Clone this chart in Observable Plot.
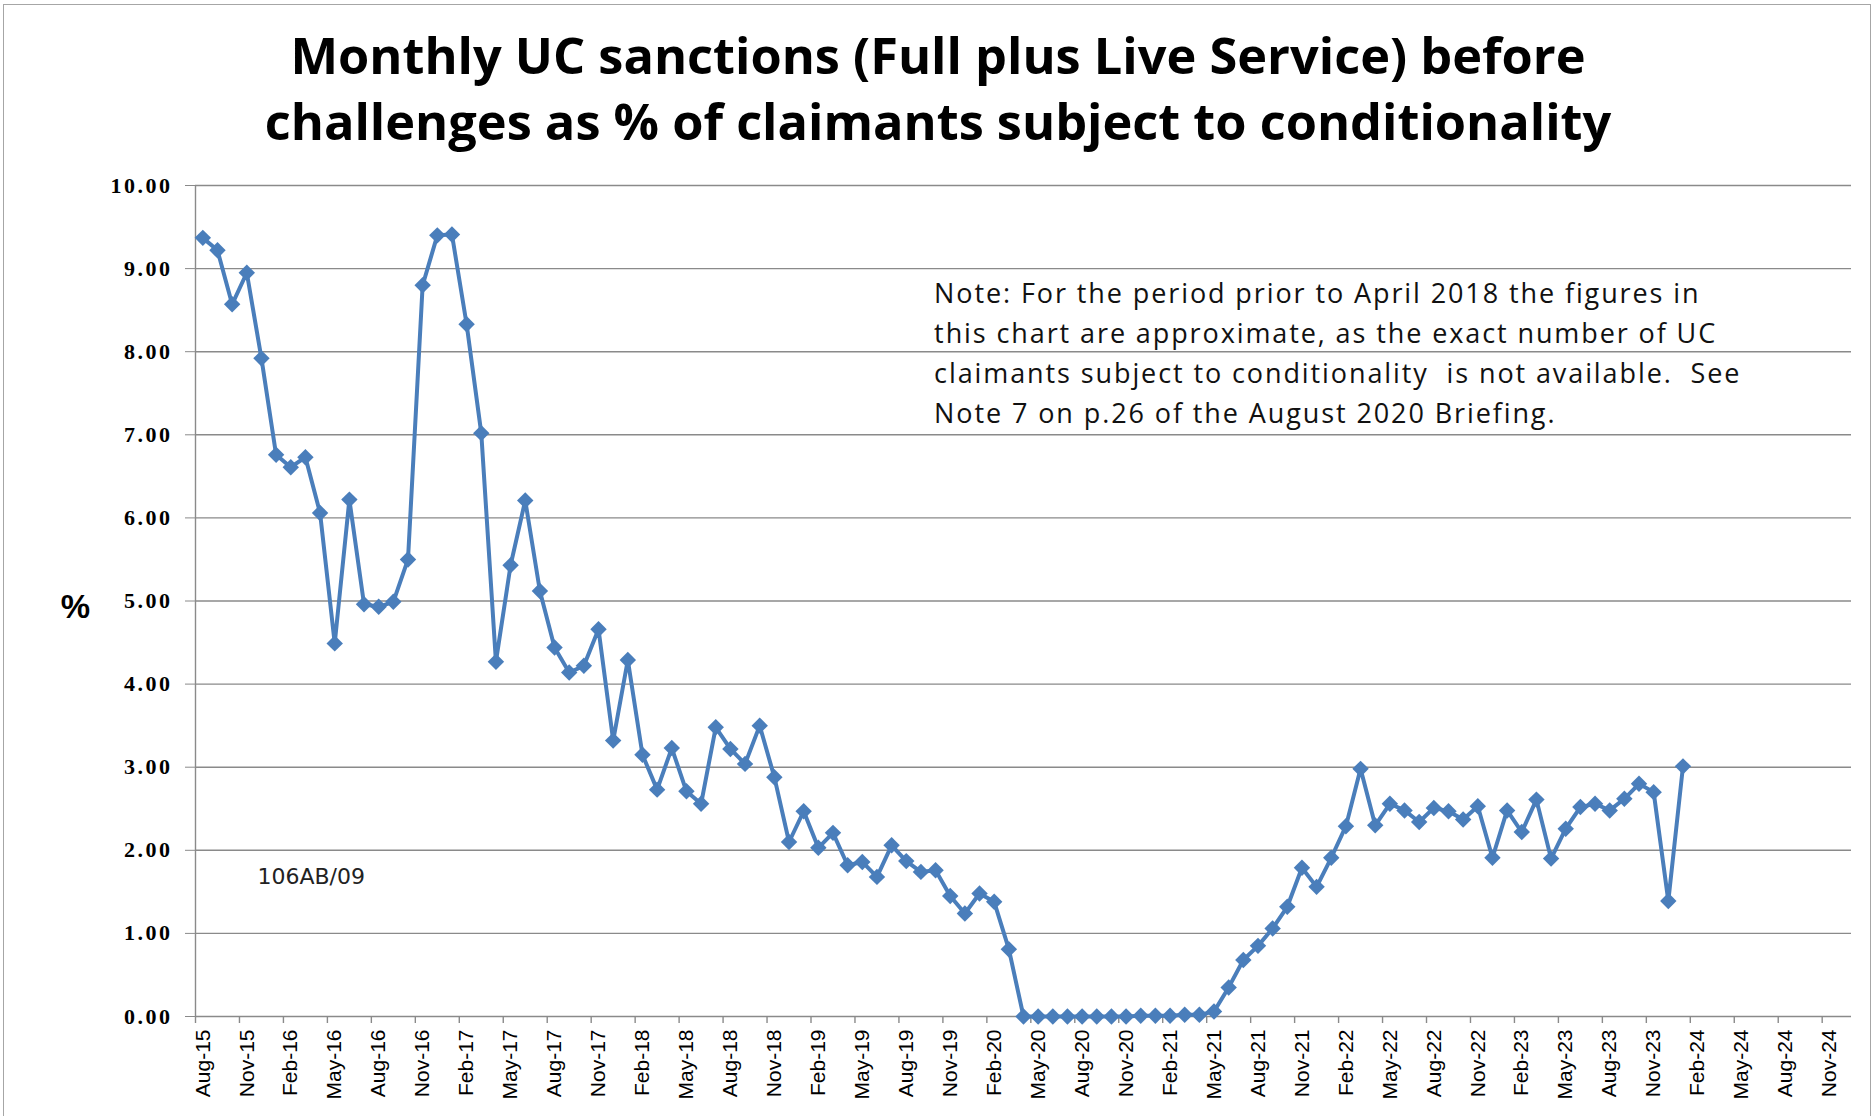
<!DOCTYPE html>
<html>
<head>
<meta charset="utf-8">
<script src="https://cdn.jsdelivr.net/npm/d3@7"></script>
<script src="https://cdn.jsdelivr.net/npm/@observablehq/plot@0.6"></script>
<style>
  html, body { margin: 0; padding: 0; background: #fff; }
  #wrap { position: relative; width: 1876px; height: 1116px; overflow: hidden; background: #fff; }
  #frame { position: absolute; left: 3px; top: 4px; width: 1868px; height: 1200px; border: 1.5px solid #a6a6a6; box-sizing: border-box; pointer-events: none; }
  #title { position: absolute; left: 0; top: 22px; width: 1876px; text-align: center;
           font-family: "Open Sans", Lato, sans-serif; font-weight: 700; font-size: 50.5px; line-height: 66px; color: #000; }
  #chart { position: absolute; left: 0; top: 150px; }
  #chart svg { overflow: visible; }
  #chart g[aria-label="y-axis tick label"] text { letter-spacing: 2.5px; }
</style>
</head>
<body>
<div id="wrap">
  <div id="title">Monthly UC sanctions (Full plus Live Service) before<br>challenges as % of claimants subject to conditionality</div>
  <div id="chart"></div>
  <div id="frame"></div>
</div>
<script>
// ---- data ----
const months = [
  "Aug-15","Sep-15","Oct-15","Nov-15","Dec-15",
  "Jan-16","Feb-16","Mar-16","Apr-16","May-16","Jun-16","Jul-16","Aug-16","Sep-16","Oct-16","Nov-16","Dec-16",
  "Jan-17","Feb-17","Mar-17","Apr-17","May-17","Jun-17","Jul-17","Aug-17","Sep-17","Oct-17","Nov-17","Dec-17",
  "Jan-18","Feb-18","Mar-18","Apr-18","May-18","Jun-18","Jul-18","Aug-18","Sep-18","Oct-18","Nov-18","Dec-18",
  "Jan-19","Feb-19","Mar-19","Apr-19","May-19","Jun-19","Jul-19","Aug-19","Sep-19","Oct-19","Nov-19","Dec-19",
  "Jan-20","Feb-20","Mar-20","Apr-20","May-20","Jun-20","Jul-20","Aug-20","Sep-20","Oct-20","Nov-20","Dec-20",
  "Jan-21","Feb-21","Mar-21","Apr-21","May-21","Jun-21","Jul-21","Aug-21","Sep-21","Oct-21","Nov-21","Dec-21",
  "Jan-22","Feb-22","Mar-22","Apr-22","May-22","Jun-22","Jul-22","Aug-22","Sep-22","Oct-22","Nov-22","Dec-22",
  "Jan-23","Feb-23","Mar-23","Apr-23","May-23","Jun-23","Jul-23","Aug-23","Sep-23","Oct-23","Nov-23","Dec-23",
  "Jan-24"
];
const sanctionPct = [
  9.37, 9.22, 8.57, 8.95, 7.92,
  6.76, 6.61, 6.73, 6.06, 4.49, 6.22, 4.96, 4.93, 4.99, 5.50, 8.80, 9.40,
  9.41, 8.33, 7.02, 4.27, 5.43, 6.21, 5.12, 4.44, 4.14, 4.22, 4.66, 3.32,
  4.29, 3.15, 2.73, 3.23, 2.71, 2.56, 3.48, 3.22, 3.04, 3.50, 2.88, 2.10,
  2.47, 2.03, 2.21, 1.82, 1.86, 1.68, 2.06, 1.87, 1.74, 1.76, 1.45, 1.24,
  1.48, 1.38, 0.81, 0.00, 0.00, 0.00, 0.00, 0.00, 0.00, 0.00, 0.00, 0.01,
  0.01, 0.01, 0.02, 0.02, 0.06, 0.35, 0.68, 0.85, 1.06, 1.32, 1.79, 1.56,
  1.91, 2.29, 2.98, 2.30, 2.56, 2.48, 2.34, 2.51, 2.47, 2.37, 2.53, 1.91,
  2.48, 2.22, 2.61, 1.90, 2.26, 2.52, 2.56, 2.48, 2.62, 2.80, 2.70, 1.39,
  3.01
];
const tickLabels = [
  "Aug-15","Nov-15","Feb-16","May-16","Aug-16","Nov-16","Feb-17","May-17","Aug-17","Nov-17",
  "Feb-18","May-18","Aug-18","Nov-18","Feb-19","May-19","Aug-19","Nov-19","Feb-20","May-20",
  "Aug-20","Nov-20","Feb-21","May-21","Aug-21","Nov-21","Feb-22","May-22","Aug-22","Nov-22",
  "Feb-23","May-23","Aug-23","Nov-23","Feb-24","May-24","Aug-24","Nov-24"
];
const yTicks = [0, 1, 2, 3, 4, 5, 6, 7, 8, 9, 10];
const noteText = "Note: For the period prior to April 2018 the figures in\nthis chart are approximate, as the exact number of UC\nclaimants subject to conditionality  is not available.  See\nNote 7 on p.26 of the August 2020 Briefing.";
const refText = "106AB/09";
const yLabel = "%";

// ---- build ----
const monthsPerTick = 3;
const nSlots = tickLabels.length * monthsPerTick - 1; // category slots on the axis
const data = months.map((m, i) => ({month: m, pos: i + 0.5, value: sanctionPct[i]}));
const tickBounds = tickLabels.map((_, k) => k * monthsPerTick);
const tickCenters = tickLabels.map((_, k) => k * monthsPerTick + 0.5);
const blue = "#4a7ebb";
const gray = "#8a8a8a";

const chart = Plot.plot({
  width: 1876,
  height: 966,
  marginLeft: 195,
  marginRight: 25,
  marginTop: 35,
  marginBottom: 100,
  style: {background: "transparent", fontFamily: "Liberation Sans, Arial, sans-serif", color: "#000"},
  x: {type: "linear", domain: [0, nSlots], axis: null, label: null},
  y: {domain: [0, 10], axis: null, label: null},
  marks: [
    Plot.gridY(yTicks, {stroke: gray, strokeOpacity: 1, strokeWidth: 1.4}),
    Plot.ruleX([0], {y1: 0, y2: 10, stroke: gray, strokeWidth: 1.4}),
    Plot.axisY({ticks: yTicks, label: null, tickSize: 10, tickPadding: 13, tickFormat: d3.format(".2f"),
      stroke: gray, fill: "#000", fontSize: 22, fontFamily: "Liberation Serif, Times New Roman, serif", fontWeight: "bold"}),
    Plot.axisX({ticks: tickBounds, label: null, tickSize: 7, tickFormat: () => "", stroke: gray, strokeWidth: 1.4}),
    Plot.axisX({ticks: tickCenters, label: null, tickSize: 0, tickPadding: 13, tickRotate: -90,
      tickFormat: d => tickLabels[Math.round((d - 0.5) / monthsPerTick)],
      fill: "#000", fontSize: 21, fontFamily: "Liberation Sans, Arial, sans-serif"}),
    Plot.lineY(data, {x: "pos", y: "value", stroke: blue, strokeWidth: 4, strokeLinejoin: "round"}),
    Plot.dot(data, {x: "pos", y: "value", symbol: "diamond2", r: 7.4, fill: blue, stroke: null}),
    Plot.text([noteText], {x: 50.4, y: 8.93, text: d => d, textAnchor: "start", lineAnchor: "top", lineHeight: 1.48,
      fontSize: 27, fontFamily: "Open Sans, sans-serif", fill: "#111"}),
    Plot.text([refText], {x: 4.23, y: 1.6, text: d => d, textAnchor: "start", lineAnchor: "bottom",
      fontSize: 22, fontFamily: "DejaVu Sans, Verdana, sans-serif", fill: "#222"}),
    Plot.text([yLabel], {frameAnchor: "left", dx: -120, dy: 6, text: d => d, textAnchor: "middle",
      fontSize: 33, fontWeight: "bold", fontFamily: "Liberation Sans, Arial, sans-serif", fill: "#000"})
  ]
});
// widen the note's letter spacing to match the reference's text width
d3.select(chart).selectAll("text")
  .filter(function () { return this.textContent.startsWith("Note:"); })
  .style("letter-spacing", "1.9px");
document.getElementById("chart").appendChild(chart);
</script>
</body>
</html>
